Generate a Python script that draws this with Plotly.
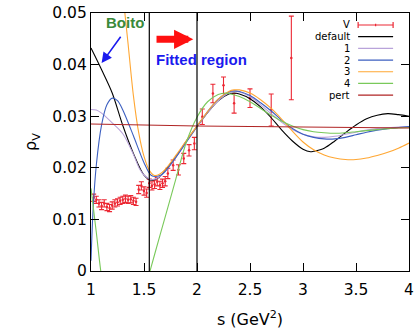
import plotly.graph_objects as go

# ---------------- data ----------------
s_data = [1.025, 1.05, 1.075, 1.10, 1.125, 1.15, 1.175, 1.20, 1.225, 1.25,
          1.275, 1.30, 1.325, 1.35, 1.375, 1.40, 1.425, 1.45, 1.475, 1.50,
          1.525, 1.55, 1.575, 1.60, 1.625, 1.65, 1.675, 1.70,
          1.725, 1.775, 1.825, 1.875, 1.925, 1.975,
          2.05, 2.15, 2.25, 2.35, 2.50, 2.70, 2.89]
v_data = [0.0142, 0.0138, 0.0131, 0.0126, 0.0131, 0.0124, 0.0122, 0.0127, 0.0131, 0.0133,
          0.0136, 0.0138, 0.0140, 0.0138, 0.0139, 0.0136, 0.0134, 0.0158, 0.0165, 0.0155,
          0.0151, 0.0170, 0.0165, 0.0168, 0.0173, 0.0166, 0.0170, 0.0174,
          0.0189, 0.0205, 0.0196, 0.0218, 0.0234, 0.0247,
          0.0299, 0.0344, 0.0360, 0.0325, 0.0335, 0.0312, 0.0413]
v_err = [0.0007, 0.0007, 0.0007, 0.0007, 0.0007, 0.0007, 0.0007, 0.0007, 0.0007, 0.0007,
         0.0007, 0.0007, 0.0007, 0.0007, 0.0007, 0.0007, 0.0007, 0.0008, 0.0008, 0.0008,
         0.0008, 0.0008, 0.0008, 0.0008, 0.0008, 0.0008, 0.0008, 0.0009,
         0.0010, 0.0010, 0.0010, 0.0010, 0.0011, 0.0012,
         0.0015, 0.0018, 0.0016, 0.0019, 0.0018, 0.0031, 0.0081]

s_default = [1.0, 1.1, 1.2, 1.3, 1.4, 1.5, 1.57, 1.65, 1.7, 1.8, 1.9, 2.0, 2.1, 2.2, 2.3, 2.35,
             2.4, 2.5, 2.6, 2.7, 2.8, 2.9, 3.0, 3.07, 3.1, 3.2, 3.3, 3.4, 3.5, 3.6, 3.7,
             3.8, 3.9, 4.0]
v_default = [0.0432, 0.0390, 0.0345, 0.0282, 0.0228, 0.0186, 0.0176, 0.0183, 0.0195, 0.0221,
             0.0252, 0.0280, 0.0307, 0.0330, 0.0343, 0.0345, 0.0343, 0.0334, 0.0318, 0.0297,
             0.0273, 0.0252, 0.0236, 0.0231, 0.0232, 0.0238, 0.0252, 0.0268, 0.0283, 0.0295,
             0.0302, 0.0305, 0.0303, 0.0300]

s_fit1 = [1.0, 1.05, 1.1, 1.2, 1.3, 1.4, 1.46, 1.5, 1.57, 1.65, 1.7, 1.8, 1.9, 2.0, 2.1, 2.2,
          2.3, 2.35, 2.4, 2.5, 2.6, 2.7, 2.8, 2.9, 3.0, 3.1, 3.2, 3.3, 3.4, 3.5, 3.6, 3.7,
          3.8, 3.9, 4.0]
v_fit1 = [0.0313, 0.0312, 0.0306, 0.0287, 0.0266, 0.0226, 0.0197, 0.0186, 0.0177, 0.0183,
          0.0193, 0.0220, 0.0250, 0.0279, 0.0307, 0.0330, 0.0345, 0.0348, 0.0347, 0.0338,
          0.0322, 0.0305, 0.0288, 0.0274, 0.0265, 0.0260, 0.0259, 0.0261, 0.0265, 0.0269,
          0.0273, 0.0276, 0.0278, 0.0279, 0.0280]

s_fit2 = [1.0, 1.02, 1.05, 1.1, 1.15, 1.2, 1.25, 1.3, 1.4, 1.46, 1.5, 1.57, 1.65, 1.7, 1.8,
          1.9, 2.0, 2.1, 2.2, 2.3, 2.35, 2.4, 2.5, 2.6, 2.7, 2.8, 2.9, 3.0, 3.1, 3.2, 3.3,
          3.4, 3.5, 3.6, 3.7, 3.8, 3.9, 4.0]
v_fit2 = [0.0020, 0.0120, 0.0205, 0.0283, 0.0322, 0.0335, 0.0330, 0.0312, 0.0262, 0.0230,
          0.0210, 0.0185, 0.0185, 0.0193, 0.0220, 0.0250, 0.0280, 0.0309, 0.0333, 0.0347,
          0.0349, 0.0348, 0.0340, 0.0326, 0.0310, 0.0292, 0.0276, 0.0265, 0.0259, 0.0256,
          0.0256, 0.0259, 0.0264, 0.0269, 0.0273, 0.0276, 0.0278, 0.0280]

s_fit3 = [1.25, 1.3, 1.35, 1.4, 1.45, 1.5, 1.55, 1.6, 1.65, 1.7, 1.8, 1.9, 2.0, 2.1, 2.2,
          2.3, 2.35, 2.4, 2.5, 2.6, 2.7, 2.8, 2.9, 3.0, 3.1, 3.2, 3.3, 3.4, 3.5, 3.6, 3.7,
          3.8, 3.9, 4.0]
v_fit3 = [0.0660, 0.0540, 0.0440, 0.0340, 0.0268, 0.0222, 0.0195, 0.0185, 0.0188, 0.0197,
          0.0224, 0.0253, 0.0281, 0.0309, 0.0333, 0.0348, 0.0351, 0.0351, 0.0345, 0.0332,
          0.0315, 0.0294, 0.0271, 0.0250, 0.0235, 0.0225, 0.0219, 0.0216, 0.0216, 0.0219,
          0.0224, 0.0230, 0.0238, 0.0248]

s_fit4 = [1.0, 1.05, 1.1, 1.2, 1.3, 1.4, 1.5, 1.557, 1.6, 1.7, 1.8, 1.9, 2.0, 2.1, 2.2, 2.27,
          2.3, 2.4, 2.5, 2.6, 2.7, 2.8, 2.9, 3.0, 3.1, 3.2, 3.3, 3.4, 3.5, 3.6, 3.7, 3.8,
          3.9, 4.0]
v_fit4 = [0.0160, 0.0075, -0.0012, -0.0130, -0.0190, -0.0170, -0.0045, 0.0000, 0.0032, 0.0105,
          0.0178, 0.0250, 0.0298, 0.0328, 0.0342, 0.0345, 0.0344, 0.0338, 0.0328, 0.0315,
          0.0302, 0.0290, 0.0281, 0.0274, 0.0270, 0.0268, 0.0267, 0.0268, 0.0270, 0.0272,
          0.0274, 0.0276, 0.0277, 0.0278]

s_pert = [1.0, 1.5, 2.0, 2.5, 3.0, 3.5, 4.0]
v_pert = [0.0285, 0.0283, 0.0281, 0.0280, 0.0279, 0.0278, 0.0277]

fit_region = [1.55, 2.0]

legend_names = ["V", "default", "1", "2", "3", "4", "pert"]
RED = "rgb(236,40,52)"
colors = [RED, "black", "#b9a3da", "#3c5fc0", "#ffa733", "#79c95a", "#b02424"]

# ---------------- figure ----------------
fig = go.Figure()

fig.add_trace(go.Scatter(
    x=s_data, y=v_data, mode="markers", name="V",
    marker=dict(color=RED, size=2.5),
    error_y=dict(type="data", array=v_err, color=RED, thickness=1.1, width=2.5),
    showlegend=False))

curves = [(s_default, v_default), (s_fit1, v_fit1), (s_fit2, v_fit2),
          (s_fit3, v_fit3), (s_fit4, v_fit4), (s_pert, v_pert)]
for (sx, vy), nm, col in zip(curves, legend_names[1:], colors[1:]):
    fig.add_trace(go.Scatter(x=sx, y=vy, mode="lines", name=nm,
                             line=dict(color=col, width=1.1, shape="spline", smoothing=0.9),
                             showlegend=False))

shapes = []
for xv in fit_region:
    shapes.append(dict(type="line", xref="x", yref="paper", x0=xv, x1=xv, y0=0, y1=1,
                       line=dict(color="black", width=1.2)))

# manual gnuplot-style key (text right-aligned, sample to the right)
key_x_text = 0.821
key_x0, key_x1 = 0.840, 0.950
key_top, key_step = 0.9535, 0.0453
annotations = []
for i, (nm, col) in enumerate(zip(legend_names, colors)):
    yy = key_top - i * key_step
    annotations.append(dict(xref="paper", yref="paper", x=key_x_text, y=yy, text=nm,
                            showarrow=False, xanchor="right", yanchor="middle",
                            font=dict(family="DejaVu Sans", size=10, color="black")))
    shapes.append(dict(type="line", xref="paper", yref="paper", x0=key_x0, x1=key_x1,
                       y0=yy, y1=yy, line=dict(color=col, width=1.2)))
    if nm == "V":
        for xe in (key_x0, key_x1):
            shapes.append(dict(type="line", xref="paper", yref="paper", x0=xe, x1=xe,
                               y0=yy - 0.012, y1=yy + 0.012, line=dict(color=col, width=1.2)))
        shapes.append(dict(type="line", xref="paper", yref="paper",
                           x0=(key_x0 + key_x1) / 2, x1=(key_x0 + key_x1) / 2,
                           y0=yy - 0.005, y1=yy + 0.005, line=dict(color=col, width=1.2)))

# text labels and arrows
annotations.append(dict(x=1.32, y=0.0481, xref="x", yref="y", text="<b>Boito</b>",
                        showarrow=False, font=dict(family="Liberation Sans", size=15,
                                                   color="#3a8a3a")))
annotations.append(dict(x=2.04, y=0.0410, xref="x", yref="y", text="<b>Fitted region</b>",
                        showarrow=False, font=dict(family="Liberation Sans", size=15,
                                                   color="#1a1aee")))
annotations.append(dict(x=1.10, y=0.0403, xref="x", yref="y", ax=1.29, ay=0.0457,
                        axref="x", ayref="y", text="", showarrow=True, arrowhead=2,
                        arrowwidth=1.6, arrowsize=1.3, arrowcolor="#1a1aee"))
annotations.append(dict(x=1.965, y=0.0449, xref="x", yref="y", ax=1.604, ay=0.0449,
                        axref="x", ayref="y", text="", showarrow=True, arrowhead=2,
                        arrowwidth=7, arrowsize=0.55, arrowcolor="#ff1010"))

axis_common = dict(showline=True, linecolor="black", linewidth=1.2, mirror="allticks",
                   ticks="inside", ticklen=8, tickwidth=1, tickcolor="black",
                   showgrid=False, zeroline=False, ticklabeloverflow="allow",
                   automargin=False,
                   tickfont=dict(family="DejaVu Sans", size=15.5, color="black"))

fig.update_layout(
    width=417, height=329,
    margin=dict(l=91, r=8, t=13, b=58),
    paper_bgcolor="white", plot_bgcolor="white",
    xaxis=dict(range=[1, 4], dtick=0.5, tick0=1, ticklabelstandoff=4,
               title=dict(text="s (GeV<sup>2</sup>)", standoff=18,
                          font=dict(family="DejaVu Sans", size=16, color="black")),
               **axis_common),
    yaxis=dict(range=[0, 0.05], dtick=0.01, tick0=0,
               title=dict(text="ρ<sub>V</sub>", standoff=11,
                          font=dict(family="DejaVu Sans", size=16, color="black")),
               **axis_common),
    shapes=shapes, annotations=annotations,
    showlegend=False,
)

# remove the browser's default page margin so the figure sits at the window origin
fig.write_html("out.html", config={"displayModeBar": False},
               post_script="document.body.style.margin='0';document.body.style.padding='0';")
